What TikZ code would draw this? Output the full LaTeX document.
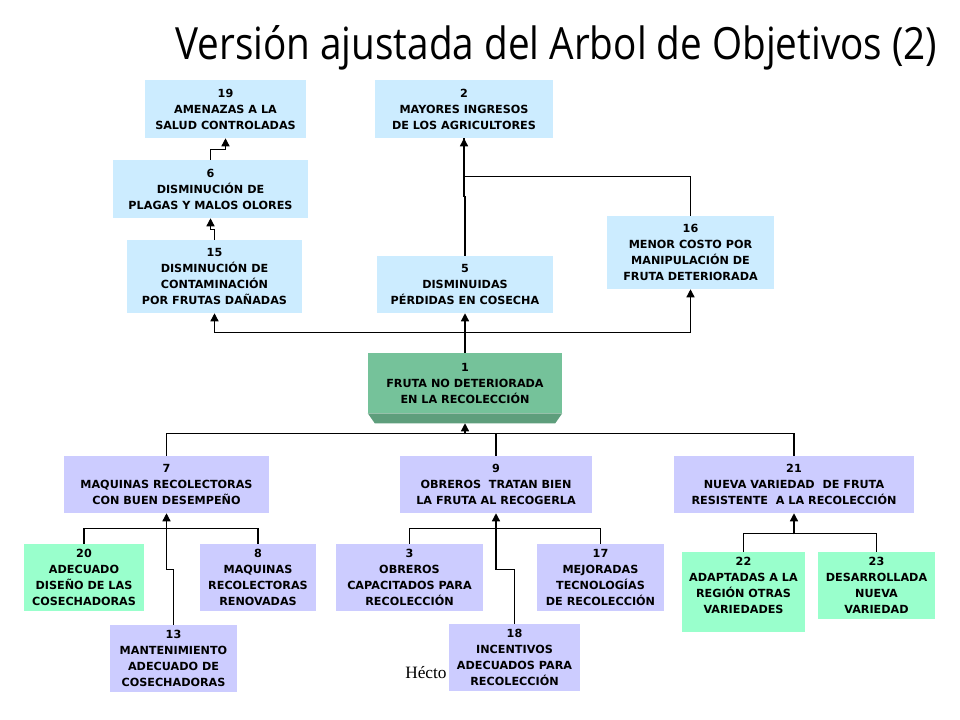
\documentclass[tikz,border=0pt]{standalone}
\usepackage{fontspec}
\newfontfamily\boxfont{DejaVu Sans}
\newfontfamily\titlefont{Open Sans}
\newfontfamily\footfont{Liberation Serif}
\usetikzlibrary{arrows.meta,calc,backgrounds}
\definecolor{lblue}{RGB}{204,236,255}
\definecolor{lilac}{RGB}{204,204,255}
\definecolor{mint}{RGB}{153,255,204}
\definecolor{gmain}{RGB}{117,194,154}
\definecolor{gdark}{RGB}{94,158,124}
\begin{document}
\begin{tikzpicture}[x=0.75pt,y=-0.75pt,
  obox/.style={rectangle, inner sep=0pt, align=center,
    font=\boxfont\bfseries\fontsize{8.4}{12}\selectfont},
  bluebox/.style={obox, fill=lblue},
  lilbox/.style={obox, fill=lilac},
  mintbox/.style={obox, fill=mint},
  conn/.style={draw=black, line width=1pt},
  arr/.style={conn, -{Triangle[width=6pt,length=6pt]}}]
\useasboundingbox (0,0) rectangle (960,720);

% title
\node[anchor=base west, inner sep=0pt] (title) at (175,60)
  {\resizebox{571.5pt}{25.5pt}{\titlefont Versión ajustada del Arbol de Objetivos (2)}};

% footer (partly hidden)
\node[anchor=base west, inner sep=0pt, font=\footfont\fontsize{13}{15}\selectfont] (foot) at (405,678) {Hécto};

% upper boxes
\node[bluebox, minimum width=161*0.75pt, minimum height=58*0.75pt] (b19) at (225.5,109) {19\\AMENAZAS A LA\\SALUD CONTROLADAS};
\node[bluebox, minimum width=178*0.75pt, minimum height=58*0.75pt] (b2) at (464,109) {2\\MAYORES INGRESOS\\DE LOS AGRICULTORES};
\node[bluebox, minimum width=195*0.75pt, minimum height=58*0.75pt] (b6) at (210.5,189) {6\\DISMINUCIÓN DE\\PLAGAS Y MALOS OLORES};
\node[bluebox, minimum width=175*0.75pt, minimum height=73*0.75pt] (b15) at (214.5,276.5) {15\\DISMINUCIÓN DE\\CONTAMINACIÓN\\POR FRUTAS DAÑADAS};
\node[bluebox, minimum width=176*0.75pt, minimum height=57*0.75pt] (b5) at (465,284.5) {5\\DISMINUIDAS\\PÉRDIDAS EN COSECHA};
\node[bluebox, minimum width=167*0.75pt, minimum height=73*0.75pt] (b16) at (690.5,252.5) {16\\MENOR COSTO POR\\MANIPULACIÓN DE\\FRUTA DETERIORADA};

% central box
\node[obox, minimum width=194*0.75pt, minimum height=60*0.75pt] (b1) at (465,383) {1\\FRUTA NO DETERIORADA\\EN LA RECOLECCIÓN};
\begin{scope}[on background layer]
\fill[gmain] (b1.north west) rectangle (b1.south east);
\fill[gdark] (b1.south west) -- (b1.south east) -- ++(-7,10) -- ($(b1.south west)+(7,10)$) -- cycle;
\end{scope}

% middle row
\node[lilbox, minimum width=205*0.75pt, minimum height=57*0.75pt] (b7) at (166.5,484.5) {7\\MAQUINAS RECOLECTORAS\\CON BUEN DESEMPEÑO};
\node[lilbox, minimum width=192*0.75pt, minimum height=57*0.75pt] (b9) at (496,484.5) {9\\OBREROS\ \ TRATAN BIEN\\LA FRUTA AL RECOGERLA};
\node[lilbox, minimum width=240*0.75pt, minimum height=57*0.75pt] (b21) at (794,484.5) {21\\NUEVA VARIEDAD\ \ DE FRUTA\\RESISTENTE\ \ A LA RECOLECCIÓN};

% lower rows
\node[mintbox, minimum width=120*0.75pt, minimum height=67*0.75pt] (b20) at (84,577.5) {20\\ADECUADO\\DISEÑO DE LAS\\COSECHADORAS};
\node[lilbox, minimum width=116*0.75pt, minimum height=67*0.75pt] (b8) at (258,577.5) {8\\MAQUINAS\\RECOLECTORAS\\RENOVADAS};
\node[lilbox, minimum width=127*0.75pt, minimum height=67*0.75pt] (b13) at (173.5,658.5) {13\\MANTENIMIENTO\\ADECUADO DE\\COSECHADORAS};
\node[lilbox, minimum width=147*0.75pt, minimum height=67*0.75pt] (b3) at (409.5,577.5) {3\\OBREROS\\CAPACITADOS PARA\\RECOLECCIÓN};
\node[lilbox, minimum width=127*0.75pt, minimum height=67*0.75pt] (b17) at (600.5,577.5) {17\\MEJORADAS\\TECNOLOGÍAS\\DE RECOLECCIÓN};
\node[lilbox, minimum width=131*0.75pt, minimum height=67*0.75pt] (b18) at (514.5,657.5) {18\\INCENTIVOS\\ADECUADOS PARA\\RECOLECCIÓN};
\node[mintbox, minimum width=123*0.75pt, minimum height=67*0.75pt] (b22) at (743.5,585.5) {22\\ADAPTADAS A LA\\REGIÓN OTRAS\\VARIEDADES};
\fill[mint] (b22.south west) rectangle ($(b22.south east)+(0,13)$);
\node[mintbox, minimum width=117*0.75pt, minimum height=67*0.75pt] (b23) at (876.5,585.5) {23\\DESARROLLADA\\NUEVA\\VARIEDAD};

% connectors top part
\draw[arr] (b6.north) -- ++(0,-10) -| (b19.south);
\draw[arr] (b15.north) -- ++(0,-10) -| (b6.south);
\draw[conn] (b16.north) -- ++(0,-39) -| (b2.south);
\draw[arr] (b5.north) -- ++(0,-59) -| (b2.south);
\draw[arr] (b1.north) -- ++(0,-20) -| (b15.south);
\draw[arr] (b1.north) -- ++(0,-20) -| (b16.south);
\draw[arr] (b1.north) -- (b5.south);

% connectors to central box
\draw[conn] (b7.north) -- ++(0,-22) -| (b21.north);
\draw[conn] (b9.north) -- ++(0,-22);
\draw[arr] ($(b1.south)+(0,21)$) -- ($(b1.south)+(0,10)$);

% connectors to 7
\draw[conn] (b20.north) -- ++(0,-15) -| (b8.north);
\draw[arr] (b13.north) -- ++(0,-55) -| (b7.south);
% connectors to 9
\draw[conn] (b3.north) -- ++(0,-15) -| (b17.north);
\draw[arr] (b18.north) -- ++(0,-54) -| (b9.south);
% connectors to 21
\draw[conn] (b22.north) -- ++(0,-18) -| (b23.north);
\draw[arr] ($(b21.south)+(0,21)$) -- (b21.south);
\end{tikzpicture}
\end{document}
